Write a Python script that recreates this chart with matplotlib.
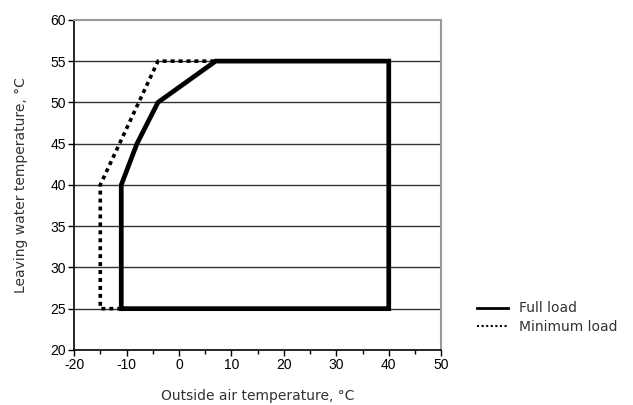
import matplotlib.pyplot as plt
import matplotlib.ticker as ticker
from matplotlib.lines import Line2D

# Operating envelope outlines (outside air temp, leaving water temp)
full_x = [-11, -11, -8, -4, 7, 40, 40, -11]
full_y = [25, 40, 45, 50, 55, 55, 25, 25]
min_x = [-11, -15, -15, -4, 7]
min_y = [25, 25, 40, 55, 55]

x_ticks = [-20, -10, 0, 10, 20, 30, 40, 50]
y_ticks = [20, 25, 30, 35, 40, 45, 50, 55, 60]

plt.rcParams['font.family'] = 'Liberation Sans'
plt.rcParams['font.size'] = 10
plt.rcParams['axes.unicode_minus'] = False

fig = plt.figure(figsize=(6.33, 4.05), dpi=100)
ax = fig.add_axes([0.117, 0.136, 0.58, 0.815])

for y in y_ticks[1:-1]:
    ax.axhline(y, color='#333333', linewidth=1.0, zorder=1)

ax.plot(min_x, min_y, color='black', linewidth=2.6, linestyle=(0, (1.1, 1.1)),
        solid_capstyle='butt', dash_capstyle='butt', zorder=3)
ax.plot(full_x, full_y, color='black', linewidth=3.4, solid_joinstyle='miter', zorder=4)

ax.set_xlim(-20, 50)
ax.set_ylim(20, 60)
ax.set_xticks(x_ticks)
ax.set_yticks(y_ticks)
ax.xaxis.set_minor_locator(ticker.MultipleLocator(5))
ax.tick_params(direction='out', length=4, width=1, labelsize=10, pad=2)
ax.tick_params(which='minor', direction='out', length=3, width=1)

for side in ['left', 'bottom']:
    ax.spines[side].set_color('black')
    ax.spines[side].set_linewidth(1.2)
for side in ['top', 'right']:
    ax.spines[side].set_color('#999999')
    ax.spines[side].set_linewidth(1.5)

ax.set_xlabel('Outside air temperature, °C', family='DejaVu Sans', fontsize=10,
              labelpad=12, color='#333333')
ax.set_ylabel('Leaving water temperature, °C', family='DejaVu Sans', fontsize=10,
              labelpad=16, color='#333333')

handles = [Line2D([], [], color='black', linewidth=2),
           Line2D([], [], color='black', linewidth=1.5, linestyle=(0, (1, 1.2)))]
fig.legend(handles, ['Full load', 'Minimum load'], loc='center left',
           bbox_to_anchor=(0.734, 0.215), frameon=False, handlelength=2.2,
           handletextpad=0.8, labelspacing=0.35,
           prop={'family': 'DejaVu Sans', 'size': 10}, labelcolor='#333333')

fig.savefig('out.png', dpi=100)
